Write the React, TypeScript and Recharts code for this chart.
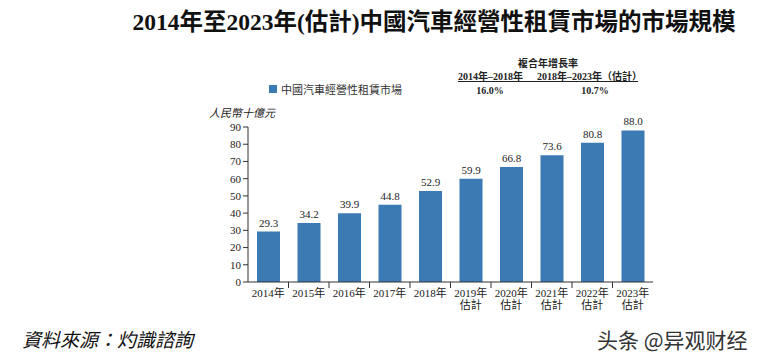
import { BarChart, Bar, XAxis, YAxis, LabelList } from "recharts";

const years = ["2014年", "2015年", "2016年", "2017年", "2018年", "2019年", "2020年", "2021年", "2022年", "2023年"];
const subLabels = ["", "", "", "", "", "估計", "估計", "估計", "估計", "估計"];
const marketSize = [29.3, 34.2, 39.9, 44.8, 52.9, 59.9, 66.8, 73.6, 80.8, 88.0];
const yTicks = [0, 10, 20, 30, 40, 50, 60, 70, 80, 90];
const cagrPeriods = ["2014年–2018年", "2018年–2023年（估計）"];
const cagrValues = ["16.0%", "10.7%"];

const data = years.map((year, i) => ({ year, sub: subLabels[i], value: marketSize[i] }));

const serif = "'Liberation Serif', 'DejaVu Serif', 'Noto Sans CJK TC', serif";
const barColor = "#3b7ab3";
const halfBand = 20.25;

const XTick = (props: any) => {
  const { x, y, payload, index } = props;
  const sub = subLabels[index];
  return (
    <g>
      {index < years.length - 1 && (
        <line x1={x + halfBand} x2={x + halfBand} y1={y - 2} y2={y + 4} stroke="#333" />
      )}
      <text x={x} y={y + 13} textAnchor="middle" fontSize={11} fontFamily={serif} fill="#222">
        {payload.value}
      </text>
      {sub && (
        <text x={x} y={y + 25} textAnchor="middle" fontSize={11} fontFamily={serif} fill="#222">
          {sub}
        </text>
      )}
    </g>
  );
};

export default function App() {
  return (
    <div style={{ position: "absolute", left: 0, top: 0, width: 761, height: 359, background: "#fff", fontFamily: serif }}>
      <div
        style={{
          position: "absolute",
          left: 0,
          width: 868,
          top: 3,
          textAlign: "center",
          fontSize: 23.5,
          fontWeight: "bold",
          color: "#111",
          whiteSpace: "nowrap",
        }}
      >
        2014年至2023年(估計)中國汽車經營性租賃市場的市場規模
      </div>

      {/* CAGR table */}
      <div style={{ position: "absolute", left: 458, width: 180, top: 55, textAlign: "center", fontSize: 10, fontWeight: "bold", color: "#222" }}>
        複合年增長率
      </div>
      <div style={{ position: "absolute", left: 458, top: 68, width: 180, height: 13, borderBottom: "1px solid #222", fontSize: 10, fontWeight: "bold", color: "#222", whiteSpace: "nowrap" }}>
        <span style={{ position: "absolute", left: 0 }}>{cagrPeriods[0]}</span>
        <span style={{ position: "absolute", left: 79 }}>{cagrPeriods[1]}</span>
      </div>
      <div style={{ position: "absolute", left: 470, width: 40, top: 85, textAlign: "center", fontSize: 10, fontWeight: "bold", color: "#222" }}>
        {cagrValues[0]}
      </div>
      <div style={{ position: "absolute", left: 575, width: 40, top: 85, textAlign: "center", fontSize: 10, fontWeight: "bold", color: "#222" }}>
        {cagrValues[1]}
      </div>

      {/* legend */}
      <div style={{ position: "absolute", left: 269, top: 81, fontSize: 11, color: "#333", display: "flex", alignItems: "center", whiteSpace: "nowrap" }}>
        <span style={{ display: "inline-block", width: 8, height: 8, background: barColor, marginRight: 4 }} />
        中國汽車經營性租賃市場
      </div>

      <div style={{ position: "absolute", left: 209, top: 104, fontSize: 11, fontStyle: "italic", color: "#222" }}>
        人民幣十億元
      </div>

      <BarChart
        width={761}
        height={359}
        data={data}
        margin={{ top: 127, right: 108, bottom: 47, left: 208 }}
        barSize={23}
      >
        <XAxis
          dataKey="year"
          axisLine={{ stroke: "#333" }}
          tickLine={false}
          tickSize={0}
          height={30}
          interval={0}
          tick={<XTick />}
        />
        <YAxis
          domain={[0, 90]}
          ticks={yTicks}
          width={40}
          axisLine={{ stroke: "#333" }}
          tickLine={{ stroke: "#333" }}
          tickSize={5}
          tick={{ fontSize: 11, fontFamily: serif, fill: "#222" }}
          interval={0}
        />
        <Bar dataKey="value" fill={barColor} isAnimationActive={false}>
          <LabelList dataKey="value" position="top" fontSize={11} fontFamily={serif} fill="#222" formatter={(v: any) => Number(v).toFixed(1)} />
        </Bar>
      </BarChart>

      <div style={{ position: "absolute", left: 22, top: 325, fontSize: 19, fontStyle: "italic", color: "#111" }}>
        資料來源：灼識諮詢
      </div>
      <div style={{ position: "absolute", left: 597, top: 324, fontSize: 21, fontFamily: "'Noto Sans CJK SC', sans-serif", color: "#333", whiteSpace: "nowrap" }}>
        头条 @异观财经
      </div>
    </div>
  );
}
